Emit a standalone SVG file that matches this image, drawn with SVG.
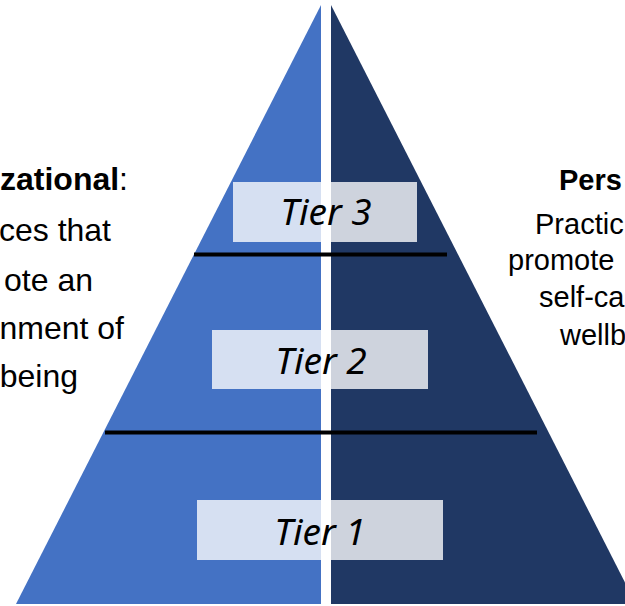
<svg xmlns="http://www.w3.org/2000/svg" width="625" height="606" viewBox="0 0 625 606">
<style>
.lt{font-family:"Liberation Sans",Arial,sans-serif;font-size:32px;fill:#000;text-anchor:end}
.rt{font-family:"Liberation Sans",Arial,sans-serif;font-size:29px;fill:#000;text-anchor:start}
.b{font-weight:bold}
.box{fill:#ffffff;fill-opacity:0.78}
.tier{font-family:"Noto Sans","DejaVu Sans",sans-serif;font-style:italic;font-size:37px;fill:#000;text-anchor:middle}
.sep{stroke:#000;stroke-width:4;fill:none}
</style>
<rect width="625" height="606" fill="#ffffff"/>
<g id="pyramid">
<polygon id="left-half" points="321,5 321,604 16,604" fill="#4472C4"/>
<polygon id="right-half" points="331,5 331,604 636,604" fill="#203864"/>
</g>
<g id="connectors">
<line class="sep" x1="194" y1="254.5" x2="447" y2="254.5"/>
<line class="sep" x1="105" y1="432.5" x2="537" y2="432.5"/>
</g>
<g id="tier3">
<rect class="box" x="233" y="182" width="184" height="60"/>
<text class="tier" x="326" y="225">Tier 3</text>
</g>
<g id="tier2">
<rect class="box" x="212" y="330" width="216" height="59"/>
<text class="tier" x="321" y="374">Tier 2</text>
</g>
<g id="tier1">
<rect class="box" x="197" y="500" width="246" height="60"/>
<text class="tier" x="320" y="545">Tier 1</text>
</g>
<g id="organizational">
<text class="lt" x="128" y="190"><tspan class="b">zational</tspan>:</text>
<text class="lt" x="111" y="241">ces that</text>
<text class="lt" x="93" y="291">ote an</text>
<text class="lt" x="124" y="339">nment of</text>
<text class="lt" x="78" y="387">being</text>
</g>
<g id="personal">
<text class="rt b" x="559" y="190" font-size="30">Pers</text>
<text class="rt" x="535" y="234">Practic</text>
<text class="rt" x="508" y="270">promote</text>
<text class="rt" x="539" y="307">self-ca</text>
<text class="rt" x="560" y="345">wellb</text>
</g>
</svg>
